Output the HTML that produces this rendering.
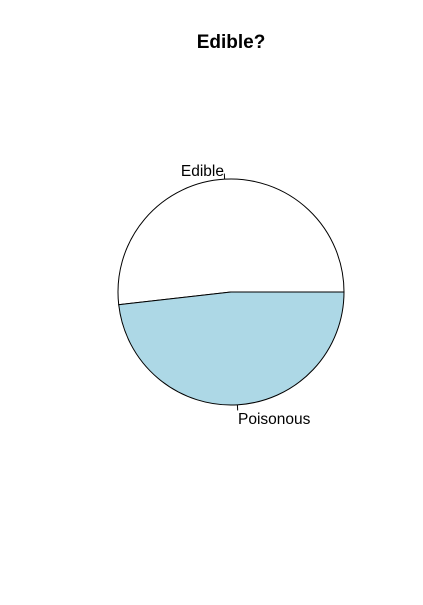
<!DOCTYPE html>
<html><head><meta charset="utf-8"><style>body{margin:0;background:#fff}svg{display:block}</style></head>
<body>
<svg width="423" height="605" font-family="Liberation Sans, Arial, sans-serif">
<rect width="423" height="605" fill="#fff"/>
<text x="231" y="48" text-anchor="middle" font-weight="bold" font-size="19">Edible?</text>
<g id="pie"></g>
</svg>
<script>
const categories = ["Edible", "Poisonous"];
const values = [4208, 3916];
const colors = ["#ffffff", "#ADD8E6"];
const cx = 231, cy = 292, r = 113;
const g = document.getElementById('pie');
const ns = 'http://www.w3.org/2000/svg';
const total = values.reduce((a,b)=>a+b,0);
let start = 0;
const pt = (a, rr) => [cx + Math.cos(a)*rr, cy - Math.sin(a)*rr];
values.forEach((v,i)=>{
  const frac = v/total;
  const a0 = start*2*Math.PI, a1 = (start+frac)*2*Math.PI;
  const [x0,y0] = pt(a0,r), [x1,y1] = pt(a1,r);
  const large = frac>0.5?1:0;
  const p = document.createElementNS(ns,'path');
  p.setAttribute('d',`M${cx},${cy} L${x0},${y0} A${r},${r} 0 ${large} 0 ${x1},${y1} Z`);
  p.setAttribute('fill',colors[i]);
  p.setAttribute('stroke','#000');
  p.setAttribute('stroke-width','1');
  
  
  g.appendChild(p);
  const am = (a0+a1)/2;
  const [tx0,ty0] = pt(am,r), [tx1,ty1] = pt(am,r*1.05);
  const l = document.createElementNS(ns,'line');
  l.setAttribute('x1',tx0);l.setAttribute('y1',ty0);l.setAttribute('x2',tx1);l.setAttribute('y2',ty1);
  l.setAttribute('stroke','#000');
  
  
  g.appendChild(l);
  const [lx,ly] = pt(am,r*1.1);
  const t = document.createElementNS(ns,'text');
  t.setAttribute('x',lx);
  t.setAttribute('y',ly+8);
  t.setAttribute('font-size','15.5');
  t.setAttribute('text-anchor', Math.cos(am)<0?'end':'start');
  t.textContent = categories[i];
  
  
  g.appendChild(t);
  start += frac;
});
</script>
</body></html>
